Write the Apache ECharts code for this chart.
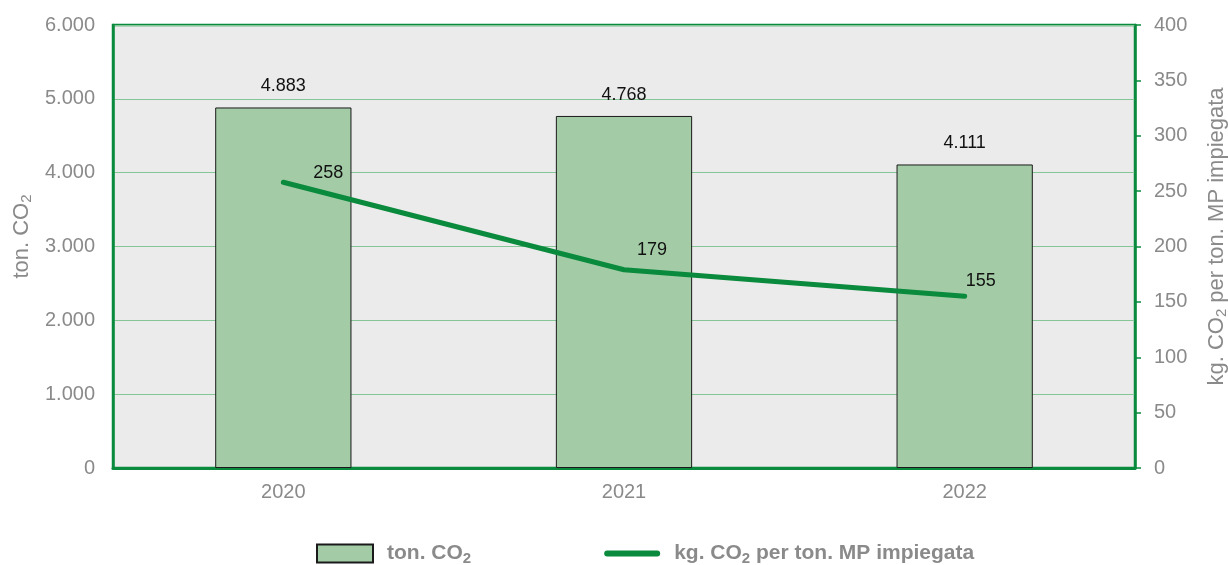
<!DOCTYPE html>
<html><head><meta charset="utf-8">
<script src="https://cdn.jsdelivr.net/npm/echarts@6/dist/echarts.min.js"></script>
<style>html,body{margin:0;padding:0;background:#fff}#c{width:1228px;height:565px}</style>
</head><body><div id="c"></div>
<script>
const years = ['2020', '2021', '2022'];
const tonCO2 = [4883, 4768, 4111];
const kgPerTon = [258, 179, 155];
const leftTicks = { min: 0, max: 6000, interval: 1000 };
const rightTicks = { min: 0, max: 400, interval: 50 };

const GREEN = '#0a8a3c';
const GRAY = '#8a8a8a';
const FONT = '"Liberation Sans", Arial, Helvetica, sans-serif';
const fmt = v => String(v).replace(/\B(?=(\d{3})+(?!\d))/g, '.');
const lineLabelOffsets = [[45, 5], [28, -5], [16, -1]];
const nameRich = {
  a: { color: GRAY, fontSize: 22, fontFamily: FONT },
  s: { color: GRAY, fontSize: 15, fontFamily: FONT, verticalAlign: 'bottom', padding: [9, 0, 0, 0] }
};

const chart = echarts.init(document.getElementById('c'));
chart.setOption({
  animation: false,
  textStyle: { fontFamily: FONT },
  grid: { left: 113, right: 93, top: 25, bottom: 97, containLabel: false, outerBoundsMode: 'none',
          show: true, backgroundColor: '#ebebeb', borderColor: GREEN, borderWidth: 2.5 },
  legend: {
    top: 538, left: 311, itemGap: 133, itemWidth: 56, itemHeight: 18,
    textStyle: { color: GRAY, fontSize: 21, fontWeight: 'bold', fontFamily: FONT,
      rich: { sp: { width: 9 },
              b: { color: GRAY, fontSize: 21, fontWeight: 'bold', fontFamily: FONT },
              s: { color: GRAY, fontSize: 15, fontWeight: 'bold', fontFamily: FONT, verticalAlign: 'bottom', padding: [10, 0, 0, 0] } } },
    formatter: n => n === 'ton. CO2' ? '{sp|}{b|ton. CO}{s|2}' : '{sp|}{b|kg. CO}{s|2}{b| per ton. MP impiegata}',
    data: [
      { name: 'ton. CO2', icon: 'rect' },
      { name: 'kg. CO2 per ton. MP impiegata', icon: 'path://M3,0 H53 A3,3 0 0 1 53,6 H3 A3,3 0 0 1 3,0 Z' }
    ]
  },
  xAxis: {
    type: 'category', data: years,
    axisLine: { lineStyle: { color: GREEN, width: 3 } },
    axisTick: { show: false },
    axisLabel: { color: GRAY, fontSize: 20, margin: 14, fontFamily: FONT }
  },
  yAxis: [{
    type: 'value', min: leftTicks.min, max: leftTicks.max, interval: leftTicks.interval,
    name: '{a|ton. CO}{s|2}', nameLocation: 'middle', nameGap: 76, nameRotate: 90,
    nameTextStyle: { rich: nameRich, padding: [0, 0, 0, 20] },
    axisLine: { show: true, lineStyle: { color: GREEN, width: 2.5 } },
    axisTick: { show: false },
    axisLabel: { color: GRAY, fontSize: 20, margin: 18, formatter: fmt, fontFamily: FONT },
    splitLine: { lineStyle: { color: '#84c695', width: 1 } }
  }, {
    type: 'value', min: rightTicks.min, max: rightTicks.max, interval: rightTicks.interval,
    name: '{a|kg. CO}{s|2}{a| per ton. MP impiegata}', nameLocation: 'middle', nameGap: 70, nameRotate: 90,
    nameTextStyle: { rich: nameRich, padding: [0, 0, 0, 20] },
    axisLine: { show: true, lineStyle: { color: GREEN, width: 2.5 } },
    axisTick: { show: true, length: 6, lineStyle: { color: GREEN, width: 1.5 } },
    axisLabel: { color: GRAY, fontSize: 20, margin: 19, fontFamily: FONT },
    splitLine: { show: false }
  }],
  series: [{
    name: 'ton. CO2', type: 'bar', yAxisIndex: 0, data: tonCO2, barWidth: '40%',
    itemStyle: { color: '#a3cca6', borderColor: '#1a1a1a', borderWidth: 1 },
    label: { show: true, position: 'top', distance: 12, color: '#111', fontSize: 18, formatter: p => fmt(p.value), fontFamily: FONT }
  }, {
    name: 'kg. CO2 per ton. MP impiegata', type: 'line', yAxisIndex: 1,
    data: kgPerTon.map((v, i) => ({ value: v, label: { offset: lineLabelOffsets[i] } })),
    symbol: 'circle', symbolSize: 1, showSymbol: true,
    lineStyle: { color: GREEN, width: 5, cap: 'round' }, itemStyle: { color: GREEN },
    label: { show: true, position: 'top', distance: 5, color: '#111', fontSize: 18, fontFamily: FONT }
  }]
});
</script></body></html>
